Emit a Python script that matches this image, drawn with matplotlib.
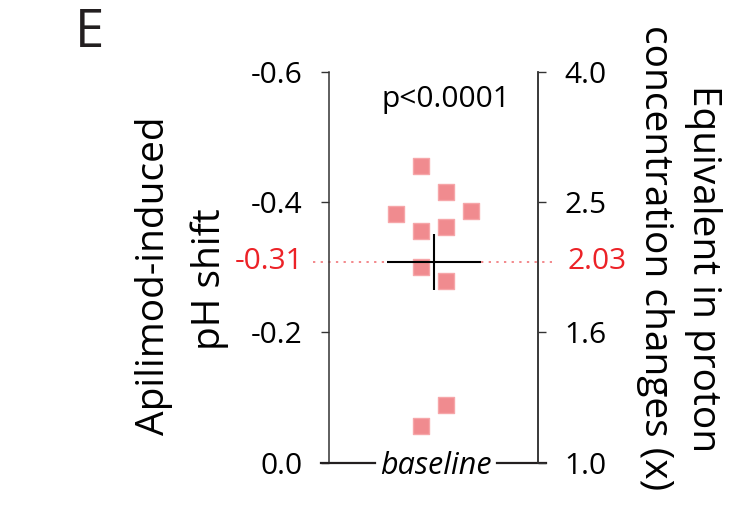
import numpy as np
import matplotlib
matplotlib.use("Agg")
import matplotlib.pyplot as plt

plt.rcParams['font.family'] = ['Open Sans', 'DejaVu Sans']

# ---- data ----
x_jitter = [-0.5, 0.5, -1.5, 1.5, -0.5, 0.5, -0.5, 0.5, 0.5, -0.5]
ph_shift = [-0.455, -0.416, -0.382, -0.387, -0.356, -0.362, -0.301, -0.279, -0.088, -0.056]
left_ticks = [-0.6, -0.4, -0.2, 0.0]
left_tick_labels = ["-0.6", "-0.4", "-0.2", "0.0"]
right_tick_labels = ["4.0", "2.5", "1.6", "1.0"]
p_text = "p<0.0001"

vals = np.array(ph_shift)
mean = vals.mean()
sem = vals.std(ddof=1) / np.sqrt(len(vals))
fold = 10 ** (-mean)

W, H = 741, 509
fig = plt.figure(figsize=(W / 100, H / 100), dpi=100)
ax = fig.add_axes([329 / W, 1 - 462.5 / H, (538 - 329) / W, (462.5 - 72) / H])

ink = '#231f20'
red = '#ec2227'
tfs = 21.5

ax.scatter(x_jitter, ph_shift, marker='s', s=11.5 ** 2, facecolor='#f08589',
           edgecolor='#f6a5a8', linewidth=1.0, alpha=0.95, zorder=3)

# mean and SEM
ax.plot([-1.88, 1.88], [mean, mean], color='black', lw=1.5, zorder=4, solid_capstyle='butt')
ax.plot([0, 0], [mean - sem, mean + sem], color='black', lw=1.5, zorder=4, solid_capstyle='butt')

ax.set_xlim(-4.18, 4.18)
ax.set_ylim(0, -0.6)
ax.set_xticks([])
ax.set_yticks(left_ticks)
ax.set_yticklabels(left_tick_labels)
for s in ['top', 'bottom']:
    ax.spines[s].set_visible(False)
for s in ['left', 'right']:
    ax.spines[s].set_color('#333333')
    ax.spines[s].set_linewidth(1.1)
ax.tick_params(axis='y', direction='out', length=6, width=1.0, color='#333333',
               pad=13, labelsize=tfs, labelcolor='black')

ax2 = ax.twinx()
ax2.set_ylim(0, -0.6)
ax2.set_yticks(left_ticks)
ax2.set_yticklabels(right_tick_labels)
for s in ['top', 'bottom', 'left']:
    ax2.spines[s].set_visible(False)
ax2.spines['right'].set_color('#333333')
ax2.spines['right'].set_linewidth(1.1)
ax2.tick_params(axis='y', direction='out', length=6, width=1.0, color='#333333',
                pad=13, labelsize=tfs, labelcolor='black')

# dotted mean guide
ax.plot([-0.077, 1.067], [mean, mean], transform=ax.get_yaxis_transform(),
        color='#f0686c', lw=1.1, dashes=(1.5, 3.5), clip_on=False, zorder=2)
ax.text(-0.12, mean, f"{mean:.2f}", transform=ax.get_yaxis_transform(),
        ha='right', va='center', color=red, fontsize=tfs)
ax.text(1.14, mean, f"{fold:.2f}", transform=ax.get_yaxis_transform(),
        ha='left', va='center', color=red, fontsize=tfs)

# baseline
ax.plot([-0.04, 0.22], [0, 0], transform=ax.get_yaxis_transform(), color=ink,
        lw=1.6, clip_on=False, zorder=5)
ax.plot([0.805, 1.04], [0, 0], transform=ax.get_yaxis_transform(), color=ink,
        lw=1.6, clip_on=False, zorder=5)
ax.text(0.51, 0.0, "baseline", transform=ax.get_yaxis_transform(), ha='center',
        va='center_baseline', style='italic', fontsize=22, color='black', clip_on=False)

ax.text(0.5, -0.546, p_text, ha='center', va='baseline', fontsize=tfs, color='black')

# axis labels
lfs = 28
fig.text(154 / W, 1 - 276 / H, "Apilimod-induced", rotation=90, ha='center', va='center',
         fontsize=lfs, color='black')
fig.text(210 / W, 1 - 279 / H, "pH shift", rotation=90, ha='center', va='center',
         fontsize=lfs, color='black')
fig.text(703 / W, 1 - 269 / H, "Equivalent in proton", rotation=270, ha='center', va='center',
         fontsize=lfs, color='black')
fig.text(655 / W, 1 - 258 / H, "concentration changes (x)", rotation=270, ha='center', va='center',
         fontsize=lfs, color='black')

fig.text(89 / W, 1 - 33 / H, "E", ha='center', va='center', fontsize=38, color=ink)

fig.savefig("out.png", dpi=100)
